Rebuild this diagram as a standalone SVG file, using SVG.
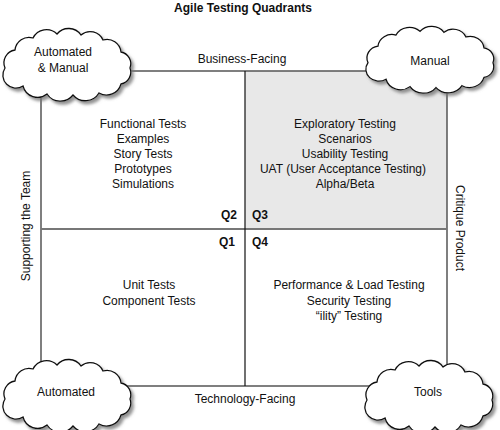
<svg xmlns="http://www.w3.org/2000/svg" xmlns:xlink="http://www.w3.org/1999/xlink" width="500" height="430" viewBox="0 0 500 430">
<style>
text{font-family:"Liberation Sans",Arial,sans-serif;font-size:12px;fill:#111;text-anchor:middle}
.title{font-weight:bold;font-size:12px}
.q{font-weight:bold;font-size:12px}
.cloud{fill:#fff;stroke:#111;stroke-width:1.3;filter:url(#sh)}
.frame{fill:none;stroke:#555;stroke-width:1.5}
</style>
<defs>
<filter id="sh" x="-20%" y="-20%" width="150%" height="160%">
<feDropShadow dx="2.5" dy="3" stdDeviation="1.5" flood-color="#777" flood-opacity="0.8"/>
</filter>
<path id="cl" d="M-62,4 A13,13 0 0 1 -52,-14 A14,14 0 0 1 -34,-26 A15,15 0 0 1 -10,-30 A15,15 0 0 1 14,-29 A14,14 0 0 1 36,-24 A14,14 0 0 1 54,-12 A12,12 0 0 1 63,4 A12,12 0 0 1 54,20 A15,15 0 0 1 32,29 A16,16 0 0 1 6,31 A16,16 0 0 1 -20,30 A15,15 0 0 1 -44,22 A13,13 0 0 1 -62,4 Z"/>
</defs>
<rect width="500" height="430" fill="#fff"/>
<text class="title" x="243" y="12">Agile Testing Quadrants</text>
<g id="q3-bg"><rect x="245" y="71" width="202" height="158" fill="#e8e8e8"/></g>
<g id="connectors">
<rect class="frame" x="41" y="71" width="406" height="315"/>
<line x1="41" y1="229" x2="447" y2="229" stroke="#777" stroke-width="2"/>
<line x1="245" y1="71" x2="245" y2="386" stroke="#111" stroke-width="1.2"/>
</g>
<g id="q2">
<text x="143" y="128">Functional Tests</text>
<text x="143" y="143">Examples</text>
<text x="143" y="158">Story Tests</text>
<text x="143" y="173">Prototypes</text>
<text x="143" y="188">Simulations</text>
<text class="q" x="229" y="219">Q2</text>
</g>
<g id="q3">
<text x="345" y="128">Exploratory Testing</text>
<text x="345" y="143">Scenarios</text>
<text x="345" y="158">Usability Testing</text>
<text x="343" y="173">UAT (User Acceptance Testing)</text>
<text x="345" y="188">Alpha/Beta</text>
<text class="q" x="260" y="219">Q3</text>
</g>
<g id="q1">
<text x="149" y="289">Unit Tests</text>
<text x="149" y="305">Component Tests</text>
<text class="q" x="227" y="246">Q1</text>
</g>
<g id="q4">
<text x="349" y="289">Performance &amp; Load Testing</text>
<text x="349" y="305">Security Testing</text>
<text x="349" y="320">“ility” Testing</text>
<text class="q" x="260" y="246">Q4</text>
</g>
<g id="axis-labels">
<text x="242" y="63">Business-Facing</text>
<text x="245" y="403">Technology-Facing</text>
<text transform="translate(30,226) rotate(-90)">Supporting the Team</text>
<text transform="translate(456,228) rotate(90)">Critique Product</text>
</g>
<g id="cloud-automated-manual">
<use href="#cl" class="cloud" transform="translate(67,64)"/>
<text x="63" y="56">Automated</text>
<text x="63" y="72">&amp; Manual</text>
</g>
<g id="cloud-manual">
<use href="#cl" class="cloud" transform="translate(430,59) scale(1,0.92)"/>
<text x="430" y="65">Manual</text>
</g>
<g id="cloud-automated">
<use href="#cl" class="cloud" transform="translate(67,395)"/>
<text x="66" y="396">Automated</text>
</g>
<g id="cloud-tools">
<use href="#cl" class="cloud" transform="translate(429,396)"/>
<text x="428" y="396">Tools</text>
</g>
</svg>
